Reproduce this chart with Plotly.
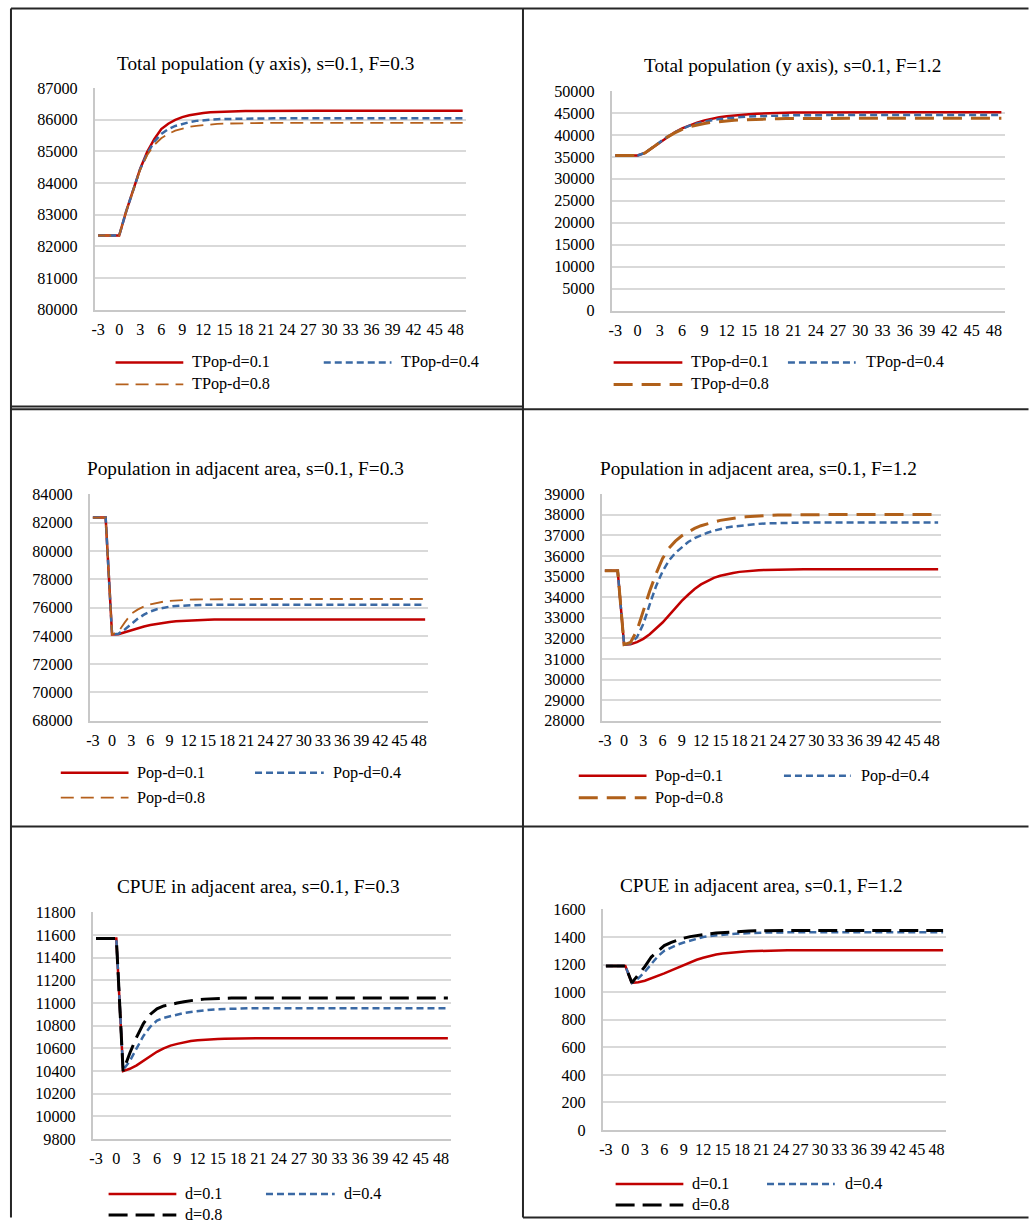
import plotly.graph_objects as go

# ---- data -------------------------------------------------------------
years = list(range(-3, 50))          # time steps -3 .. 49
x_ticks = list(range(-3, 49, 3))     # labelled every 3 steps

tpop_f03_d01 = [
    82340, 82340, 82340, 82340, 83100, 83800, 84450, 84980, 85380, 85700,
    85870, 85990, 86080, 86140, 86180, 86210, 86230, 86245, 86255, 86262,
    86268, 86272, 86275, 86277, 86279, 86280, 86280, 86280, 86280, 86280,
    86280, 86280, 86280, 86280, 86280, 86280, 86280, 86280, 86280, 86280,
    86280, 86280, 86280, 86280, 86280, 86280, 86280, 86280, 86280, 86280,
    86280, 86280, 86280]
tpop_f03_d04 = [
    82340, 82340, 82340, 82340, 83100, 83800, 84440, 84930, 85300, 85550,
    85700, 85800, 85870, 85920, 85960, 85985, 86000, 86012, 86020, 86026,
    86030, 86033, 86036, 86038, 86039, 86040, 86040, 86040, 86040, 86040,
    86040, 86040, 86040, 86040, 86040, 86040, 86040, 86040, 86040, 86040,
    86040, 86040, 86040, 86040, 86040, 86040, 86040, 86040, 86040, 86040,
    86040, 86040, 86040]
tpop_f03_d08 = [
    82340, 82340, 82340, 82340, 83100, 83790, 84420, 84880, 85200, 85410,
    85550, 85650, 85720, 85770, 85805, 85830, 85850, 85864, 85874, 85881,
    85886, 85889, 85891, 85893, 85894, 85895, 85895, 85895, 85895, 85895,
    85895, 85895, 85895, 85895, 85895, 85895, 85895, 85895, 85895, 85895,
    85895, 85895, 85895, 85895, 85895, 85895, 85895, 85895, 85895, 85895,
    85895, 85895, 85895]

tpop_f12_d01 = [
    35300, 35300, 35300, 35300, 35900, 37100, 38400, 39600, 40600, 41500,
    42200, 42800, 43300, 43700, 44000, 44250, 44450, 44600, 44720, 44820,
    44900, 44960, 45010, 45050, 45080, 45100, 45115, 45125, 45135, 45140,
    45145, 45150, 45150, 45150, 45150, 45150, 45150, 45150, 45150, 45150,
    45150, 45150, 45150, 45150, 45150, 45150, 45150, 45150, 45150, 45150,
    45150, 45150, 45150]
tpop_f12_d04 = [
    35300, 35300, 35300, 35300, 35900, 37100, 38400, 39580, 40550, 41400,
    42100, 42600, 43000, 43350, 43600, 43800, 43950, 44070, 44170, 44250,
    44310, 44360, 44400, 44430, 44455, 44480, 44495, 44510, 44520, 44530,
    44540, 44550, 44550, 44550, 44550, 44550, 44550, 44550, 44550, 44550,
    44550, 44550, 44550, 44550, 44550, 44550, 44550, 44550, 44550, 44550,
    44550, 44550, 44550]
tpop_f12_d08 = [
    35300, 35300, 35300, 35300, 35900, 37080, 38350, 39500, 40450, 41250,
    41850, 42300, 42600, 42850, 43050, 43200, 43320, 43420, 43500, 43560,
    43610, 43650, 43680, 43710, 43730, 43750, 43765, 43775, 43785, 43792,
    43797, 43800, 43800, 43800, 43800, 43800, 43800, 43800, 43800, 43800,
    43800, 43800, 43800, 43800, 43800, 43800, 43800, 43800, 43800, 43800,
    43800, 43800, 43800]

pop_f03_d01 = [
    82350, 82350, 82350, 74100, 74120, 74250, 74400, 74540, 74660, 74760,
    74850, 74920, 74980, 75030, 75060, 75090, 75110, 75125, 75135, 75145,
    75150, 75154, 75157, 75159, 75160, 75160, 75160, 75160, 75160, 75160,
    75160, 75160, 75160, 75160, 75160, 75160, 75160, 75160, 75160, 75160,
    75160, 75160, 75160, 75160, 75160, 75160, 75160, 75160, 75160, 75160,
    75160, 75160, 75160]
pop_f03_d04 = [
    82350, 82350, 82350, 74100, 74150, 74450, 74850, 75200, 75500, 75720,
    75880, 75990, 76060, 76110, 76140, 76160, 76175, 76185, 76190, 76194,
    76196, 76198, 76199, 76200, 76200, 76200, 76200, 76200, 76200, 76200,
    76200, 76200, 76200, 76200, 76200, 76200, 76200, 76200, 76200, 76200,
    76200, 76200, 76200, 76200, 76200, 76200, 76200, 76200, 76200, 76200,
    76200, 76200, 76200]
pop_f03_d08 = [
    82350, 82350, 82350, 74100, 74300, 74950, 75550, 75850, 76080, 76230,
    76330, 76410, 76460, 76500, 76530, 76550, 76565, 76575, 76585, 76590,
    76594, 76597, 76599, 76600, 76600, 76600, 76600, 76600, 76600, 76600,
    76600, 76600, 76600, 76600, 76600, 76600, 76600, 76600, 76600, 76600,
    76600, 76600, 76600, 76600, 76600, 76600, 76600, 76600, 76600, 76600,
    76600, 76600, 76600]

pop_f12_d01 = [
    35280, 35280, 35280, 31700, 31720, 31820, 31980, 32200, 32470, 32770,
    33120, 33480, 33820, 34120, 34400, 34620, 34800, 34940, 35040, 35120,
    35180, 35230, 35265, 35290, 35310, 35325, 35335, 35343, 35348, 35352,
    35355, 35357, 35359, 35360, 35360, 35360, 35360, 35360, 35360, 35360,
    35360, 35360, 35360, 35360, 35360, 35360, 35360, 35360, 35360, 35360,
    35360, 35360, 35360]
pop_f12_d04 = [
    35280, 35280, 35280, 31700, 31750, 32050, 32700, 33650, 34550, 35250,
    35780, 36150, 36430, 36680, 36870, 37010, 37130, 37230, 37310, 37380,
    37430, 37470, 37510, 37540, 37560, 37580, 37595, 37605, 37612, 37617,
    37620, 37622, 37624, 37625, 37625, 37625, 37625, 37625, 37625, 37625,
    37625, 37625, 37625, 37625, 37625, 37625, 37625, 37625, 37625, 37625,
    37625, 37625, 37625]
pop_f12_d08 = [
    35280, 35280, 35280, 31700, 31800, 32380, 33350, 34300, 35150, 35880,
    36380, 36720, 36980, 37180, 37340, 37470, 37570, 37655, 37730, 37790,
    37840, 37875, 37905, 37930, 37950, 37965, 37978, 37988, 37995, 38000,
    38004, 38007, 38009, 38010, 38010, 38010, 38010, 38010, 38010, 38010,
    38010, 38010, 38010, 38010, 38010, 38010, 38010, 38010, 38010, 38010,
    38010, 38010, 38010]

cpue_f03_d01 = [
    11570, 11570, 11570, 11570, 10400, 10420, 10450, 10490, 10530, 10570,
    10600, 10625, 10640, 10655, 10665, 10672, 10677, 10680, 10683, 10685,
    10687, 10688, 10689, 10690, 10690, 10690, 10690, 10690, 10690, 10690,
    10690, 10690, 10690, 10690, 10690, 10690, 10690, 10690, 10690, 10690,
    10690, 10690, 10690, 10690, 10690, 10690, 10690, 10690, 10690, 10690,
    10690, 10690, 10690]
cpue_f03_d04 = [
    11570, 11570, 11570, 11570, 10410, 10490, 10600, 10710, 10790, 10845,
    10870, 10885, 10900, 10912, 10922, 10930, 10937, 10942, 10946, 10949,
    10951, 10953, 10954, 10955, 10955, 10955, 10955, 10955, 10955, 10955,
    10955, 10955, 10955, 10955, 10955, 10955, 10955, 10955, 10955, 10955,
    10955, 10955, 10955, 10955, 10955, 10955, 10955, 10955, 10955, 10955,
    10955, 10955, 10955]
cpue_f03_d08 = [
    11570, 11570, 11570, 11570, 10400, 10560, 10700, 10820, 10900, 10950,
    10975, 10990, 11000, 11012, 11022, 11030, 11035, 11039, 11042, 11044,
    11045, 11045, 11045, 11045, 11045, 11045, 11045, 11045, 11045, 11045,
    11045, 11045, 11045, 11045, 11045, 11045, 11045, 11045, 11045, 11045,
    11045, 11045, 11045, 11045, 11045, 11045, 11045, 11045, 11045, 11045,
    11045, 11045, 11045]

cpue_f12_d01 = [
    1190, 1190, 1190, 1190, 1068, 1072, 1083, 1100, 1118, 1137,
    1157, 1177, 1196, 1215, 1235, 1250, 1263, 1273, 1281, 1287,
    1291, 1294, 1297, 1299, 1300, 1301, 1302, 1303, 1304, 1305,
    1305, 1305, 1305, 1305, 1305, 1305, 1305, 1305, 1305, 1305,
    1305, 1305, 1305, 1305, 1305, 1305, 1305, 1305, 1305, 1305,
    1305, 1305, 1305]
cpue_f12_d04 = [
    1190, 1190, 1190, 1190, 1068, 1100, 1148, 1205, 1260, 1300,
    1325, 1345, 1360, 1375, 1390, 1400, 1407, 1413, 1417, 1421,
    1424, 1427, 1429, 1431, 1432, 1433, 1434, 1435, 1435, 1435,
    1435, 1435, 1435, 1435, 1435, 1435, 1435, 1435, 1435, 1435,
    1435, 1435, 1435, 1435, 1435, 1435, 1435, 1435, 1435, 1435,
    1435, 1435, 1435]
cpue_f12_d08 = [
    1190, 1190, 1190, 1190, 1068, 1125, 1185, 1255, 1300, 1338,
    1360, 1378, 1392, 1403, 1411, 1418, 1424, 1429, 1433, 1437,
    1440, 1442, 1444, 1445, 1446, 1447, 1448, 1448, 1448, 1448,
    1448, 1448, 1448, 1448, 1448, 1448, 1448, 1448, 1448, 1448,
    1448, 1448, 1448, 1448, 1448, 1448, 1448, 1448, 1448, 1448,
    1448, 1448, 1448]

# ---- page geometry ----------------------------------------------------
# Positions below are given in page pixels.  Vertically the figure sits
# below the body's 8px margin and the taller page is fitted to the window,
# so vertical page pixels are mapped back into figure pixels.
W, H = 1029, 1228
BODY_MARGIN = 8
SY = H / (H + 2 * BODY_MARGIN)
FONT = "Liberation Serif"
TICK_SIZE = 16.2
TITLE_SIZE = 19.3
GRID = "#D9D9D9"
AXIS = "#C8C8C8"

RED = dict(color="#C00000", width=2.5, dash="solid")
BLUE = dict(color="#3A69A4", width=2.5, dash="7px,4px")
BROWN_THIN = dict(color="#B5601C", width=1.8, dash="13px,7px")
BROWN_THICK = dict(color="#B0601A", width=3, dash="19px,9px")
BLACK = dict(color="#000000", width=3, dash="19px,8px")


def fx(px):
    return min(max(px, 0.5), W - 0.5) / W


def fy(py):
    f = min(max(py / SY - BODY_MARGIN, 0.5), H - 0.5)
    return 1 - f / H


panels = [
    dict(title="Total population (y axis), s=0.1, F=0.3",
         box=(91, 464, 88, 310), yrange=(80000, 87000), dtick=1000,
         title_pos=(263, 64), legend_rows=(363, 385),
         legend_cols=[(112, 180, 187), (321, 389, 397)],
         series=[("TPop-d=0.1", tpop_f03_d01, RED),
                 ("TPop-d=0.4", tpop_f03_d04, BLUE),
                 ("TPop-d=0.8", tpop_f03_d08, BROWN_THIN)]),
    dict(title="Total population (y axis), s=0.1, F=1.2",
         box=(610, 1005, 91, 311), yrange=(0, 50000), dtick=5000,
         title_pos=(792, 66), legend_rows=(363, 385),
         legend_cols=[(612, 681, 688), (787, 855, 863)],
         series=[("TPop-d=0.1", tpop_f12_d01, RED),
                 ("TPop-d=0.4", tpop_f12_d04, BLUE),
                 ("TPop-d=0.8", tpop_f12_d08, BROWN_THICK)]),
    dict(title="Population in adjacent area, s=0.1, F=0.3",
         box=(86, 426, 495, 722), yrange=(68000, 84000), dtick=2000,
         title_pos=(242, 469), legend_rows=(774, 799),
         legend_cols=[(57, 125, 132), (252, 321, 328)],
         series=[("Pop-d=0.1", pop_f03_d01, RED),
                 ("Pop-d=0.4", pop_f03_d04, BLUE),
                 ("Pop-d=0.8", pop_f03_d08, BROWN_THIN)]),
    dict(title="Population in adjacent area, s=0.1, F=1.2",
         box=(600, 941, 495, 722), yrange=(28000, 39000), dtick=1000,
         title_pos=(757, 469), legend_rows=(777, 799),
         legend_cols=[(577, 645, 652), (783, 850, 858)],
         series=[("Pop-d=0.1", pop_f12_d01, RED),
                 ("Pop-d=0.4", pop_f12_d04, BLUE),
                 ("Pop-d=0.8", pop_f12_d08, BROWN_THICK)]),
    dict(title="CPUE in adjacent area, s=0.1, F=0.3",
         box=(89, 449, 914, 1141), yrange=(9800, 11800), dtick=200,
         title_pos=(255, 888), legend_rows=(1196, 1217),
         legend_cols=[(105, 173, 180), (263, 332, 339)],
         series=[("d=0.1", cpue_f03_d01, RED),
                 ("d=0.4", cpue_f03_d04, BLUE),
                 ("d=0.8", cpue_f03_d08, BLACK)]),
    dict(title="CPUE in adjacent area, s=0.1, F=1.2",
         box=(601, 946, 911, 1132), yrange=(0, 1600), dtick=200,
         title_pos=(760, 887), legend_rows=(1186, 1207),
         legend_cols=[(614, 682, 689), (766, 834, 842)],
         series=[("d=0.1", cpue_f12_d01, RED),
                 ("d=0.4", cpue_f12_d04, BLUE),
                 ("d=0.8", cpue_f12_d08, BLACK)]),
]

fig = go.Figure()
shapes = []
annotations = []
layout = dict(
    width=W, height=H, autosize=False,
    margin=dict(l=0, r=0, t=0, b=0, pad=0),
    paper_bgcolor="white", plot_bgcolor="white",
    showlegend=False,
    font=dict(family=FONT, size=TICK_SIZE, color="black"),
)

for i, p in enumerate(panels, start=1):
    suffix = "" if i == 1 else str(i)
    left, right, top, bottom = p["box"]
    layout["xaxis" + suffix] = dict(
        domain=[fx(left), fx(right)], anchor="y" + suffix,
        range=[-3.5, 49.5], tickmode="array", tickvals=x_ticks,
        ticktext=[str(v) for v in x_ticks], tickangle=0,
        showgrid=False, zeroline=False, showline=True,
        linecolor=AXIS, linewidth=1.5, ticks="",
        ticklabelstandoff=4,
        tickfont=dict(family=FONT, size=TICK_SIZE, color="black"),
    )
    layout["yaxis" + suffix] = dict(
        domain=[fy(bottom), fy(top)], anchor="x" + suffix,
        range=list(p["yrange"]), dtick=p["dtick"], tick0=0,
        tickformat="d",
        showgrid=True, gridcolor=GRID, gridwidth=1.5,
        zeroline=False, showline=True, linecolor=AXIS, linewidth=1.5,
        ticks="", ticklabelstandoff=12,
        tickfont=dict(family=FONT, size=TICK_SIZE, color="black"),
    )

    for name, values, style in p["series"]:
        fig.add_trace(go.Scatter(
            x=years, y=values, name=name, mode="lines",
            line=dict(color=style["color"], width=style["width"],
                      dash=style["dash"]),
            xaxis="x" + suffix, yaxis="y" + suffix,
        ))

    # chart title
    tx, ty = p["title_pos"]
    annotations.append(dict(
        text=p["title"], x=fx(tx), y=fy(ty), xref="paper", yref="paper",
        xanchor="center", yanchor="middle", showarrow=False,
        font=dict(family=FONT, size=TITLE_SIZE, color="black"),
    ))

    # legend: two entries on the first row, one on the second
    row1, row2 = p["legend_rows"]
    slots = [(p["legend_cols"][0], row1), (p["legend_cols"][1], row1),
             (p["legend_cols"][0], row2)]
    for (name, _, style), ((x0, x1, xt), yy) in zip(p["series"], slots):
        shapes.append(dict(
            type="line", xref="paper", yref="paper",
            x0=fx(x0), x1=fx(x1), y0=fy(yy), y1=fy(yy),
            line=dict(color=style["color"], width=style["width"],
                      dash=style["dash"]),
        ))
        annotations.append(dict(
            text=name, x=fx(xt), y=fy(yy), xref="paper", yref="paper",
            xanchor="left", yanchor="middle", showarrow=False,
            font=dict(family=FONT, size=TICK_SIZE, color="black"),
        ))

# table frame around the six charts (page pixels)
BORDER = "#262626"
frame = [
    (7, 5, 521, 5), (521, 8, 1029, 8),          # top edges
    (7, 5, 7, 1228), (521, 5, 521, 1228),       # verticals
    (7, 407, 521, 407), (7, 410, 1029, 410),    # row 1 / row 2
    (7, 828, 1029, 828),                        # row 2 / row 3
    (521, 1227, 1029, 1227),                    # bottom right
]
for x0, y0, x1, y1 in frame:
    shapes.append(dict(
        type="line", xref="paper", yref="paper",
        x0=fx(x0), y0=fy(y0), x1=fx(x1), y1=fy(y1),
        line=dict(color=BORDER, width=2),
    ))

layout["shapes"] = shapes
layout["annotations"] = annotations
fig.update_layout(**layout)
fig.write_html("out.html")
